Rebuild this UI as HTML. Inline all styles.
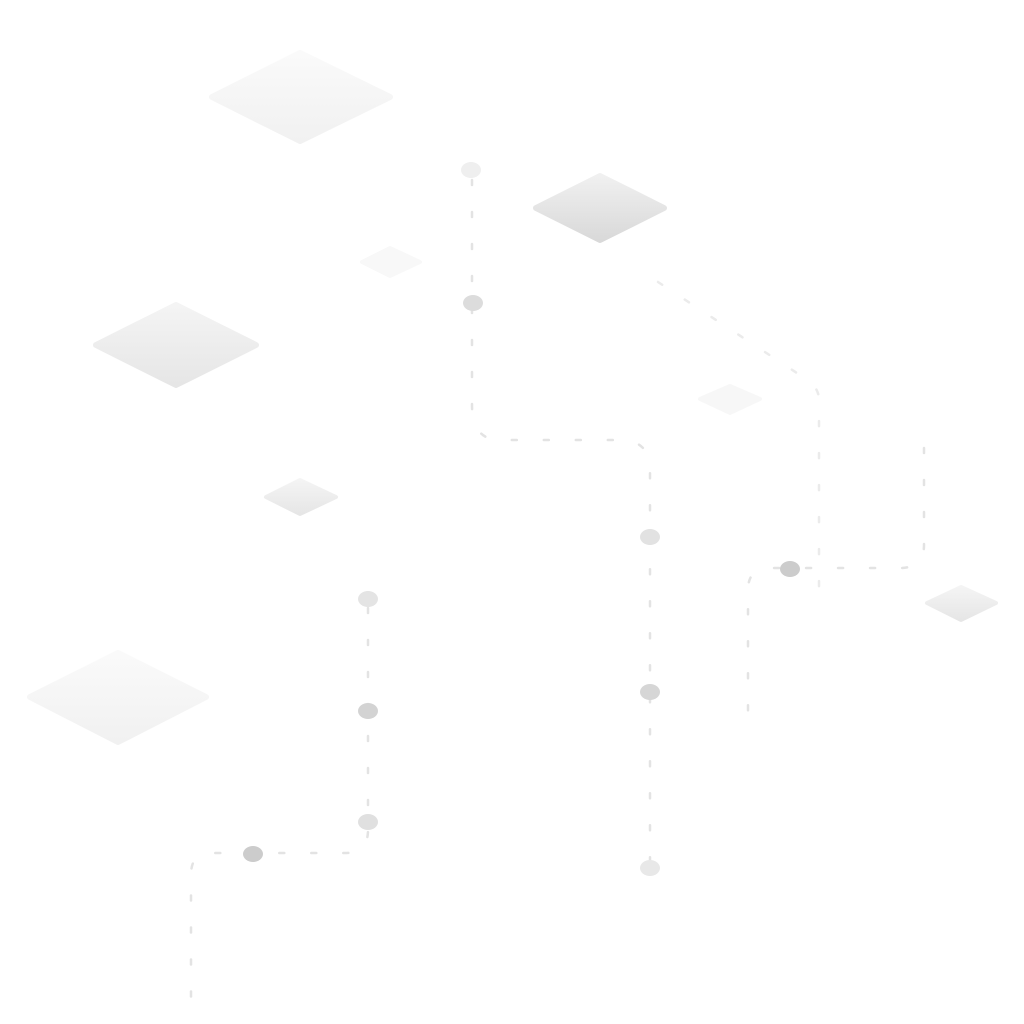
<!DOCTYPE html>
<html><head><meta charset="utf-8"><style>html,body{margin:0;padding:0;background:#fff;width:1024px;height:1024px;overflow:hidden}</style></head>
<body>
<svg width="1024" height="1024" viewBox="0 0 1024 1024" xmlns="http://www.w3.org/2000/svg">
<defs>
<linearGradient id="g1" x1="0" y1="0" x2="0" y2="1"><stop offset="0" stop-color="#f0f0f0"/><stop offset="1" stop-color="#d9d9d9"/></linearGradient>
<linearGradient id="g2" x1="0" y1="0" x2="0" y2="1"><stop offset="0" stop-color="#f4f4f4"/><stop offset="1" stop-color="#e6e6e6"/></linearGradient>
<linearGradient id="g3" x1="0" y1="0" x2="0" y2="1"><stop offset="0" stop-color="#fafafa"/><stop offset="1" stop-color="#f1f1f1"/></linearGradient>
</defs>
<g stroke-linejoin="round">
<polygon points="300,53 390,97 300,141 212,97" fill="url(#g3)" stroke="url(#g3)" stroke-width="6"/>
<polygon points="600,176 664,208 600,240 536,208" fill="url(#g1)" stroke="url(#g1)" stroke-width="6"/>
<polygon points="390,248 420,262 390,276 362,262" fill="#f8f8f8" stroke="#f8f8f8" stroke-width="4"/>
<polygon points="176,305 256,345 176,385 96,345" fill="url(#g2)" stroke="url(#g2)" stroke-width="6"/>
<polygon points="730,386 760,399 730,413 700,399" fill="#f7f7f7" stroke="#f7f7f7" stroke-width="4"/>
<polygon points="300,480 336,497 300,514 266,497" fill="url(#g2)" stroke="url(#g2)" stroke-width="4"/>
<polygon points="118,653 206,697 118,742 30,697" fill="url(#g3)" stroke="url(#g3)" stroke-width="6"/>
<polygon points="961,587 996,603 961,620 927,603" fill="url(#g2)" stroke="url(#g2)" stroke-width="4"/>
</g>
<g fill="none" stroke="#e3e3e3" stroke-width="2.5" stroke-dasharray="5 27" stroke-linecap="round">
<path d="M472,180 V405 Q472,440 500,440 H620 Q650,440 650,470 V860"/>
<path d="M658,282 L800,375 Q819,385 819,400 V605" stroke="#ebebeb"/>
<path d="M924,448 V545 Q924,568 900,568 H770 Q748,568 748,590 V722"/>
<path d="M368,608 V830 Q368,853 345,853 H210 Q191,853 191,875 V1010"/>
</g>
<g>
<ellipse cx="471" cy="170" rx="10" ry="8" fill="#efefef"/>
<ellipse cx="473" cy="303" rx="10" ry="8" fill="#dcdcdc"/>
<ellipse cx="650" cy="537" rx="10" ry="8" fill="#e2e2e2"/>
<ellipse cx="650" cy="692" rx="10" ry="8" fill="#d6d6d6"/>
<ellipse cx="650" cy="868" rx="10" ry="8" fill="#e8e8e8"/>
<ellipse cx="790" cy="569" rx="10" ry="8" fill="#cccccc"/>
<ellipse cx="368" cy="599" rx="10" ry="8" fill="#e4e4e4"/>
<ellipse cx="368" cy="711" rx="10" ry="8" fill="#d3d3d3"/>
<ellipse cx="368" cy="822" rx="10" ry="8" fill="#e0e0e0"/>
<ellipse cx="253" cy="854" rx="10" ry="8" fill="#cccccc"/>
</g>
</svg>
</body></html>
